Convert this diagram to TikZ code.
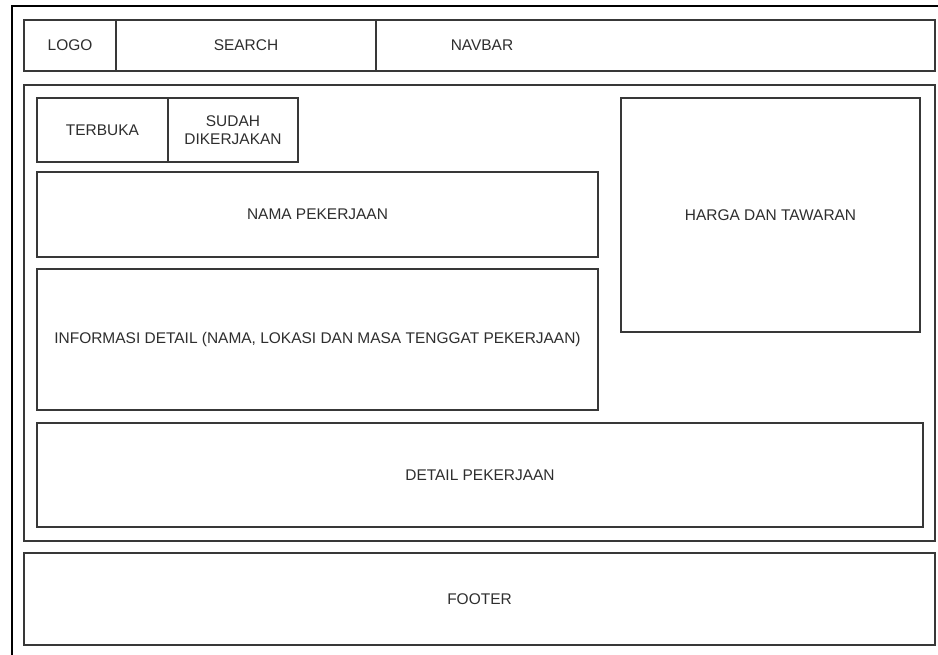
\documentclass[tikz,border=0pt]{standalone}
\usepackage{fontspec}
\setmainfont{Liberation Sans}
\usetikzlibrary{fit}
\begin{document}
\begin{tikzpicture}[x=0.75pt,y=-0.75pt,
  box/.style={draw=black!78, line width=0.9pt, fill=white, inner sep=0pt},
  txt/.style={inner sep=0pt, align=center,
    font=\fontsize{11.6}{13.2}\selectfont, text=black!82}]
  \useasboundingbox (0,0) rectangle (938,655);
  \fill[white] (0,0) rectangle (938,655);
  % page frame
  \draw[black, line width=0.9pt] (12,655) -- (12,6) -- (938,6);
  % header bar
  \node[box, fit={(24,20) (116,71)}] (logo) {};
  \node[box, fit={(116,20) (376,71)}] (search) {};
  \node[box, fit={(376,20) (935,71)}] (navbar) {};
  % main content area
  \node[box, fit={(24,85) (935,541)}] (content) {};
  \node[box, fit={(37,98) (168,162)}] (terbuka) {};
  \node[box, fit={(168,98) (298,162)}] (sudah) {};
  \node[box, fit={(37,172) (598,257)}] (nama) {};
  \node[box, fit={(37,269) (598,410)}] (info) {};
  \node[box, fit={(621,98) (920,332)}] (harga) {};
  \node[box, fit={(37,423) (923,527)}] (detail) {};
  % footer
  \node[box, fit={(24,553) (935,645)}] (footer) {};
  % captions
  \node[txt] (logotext) at (logo.center) {LOGO};
  \node[txt] (searchtext) at (search.center) {SEARCH};
  \node[txt] (navtext) at (482,45.5) {NAVBAR};
  \node[txt] (terbukatext) at (terbuka.center) {TERBUKA};
  \node[txt] (sudahtext) at (sudah.center) {SUDAH\\DIKERJAKAN};
  \node[txt] (namatext) at (nama.center) {NAMA PEKERJAAN};
  \node[txt] (infotext) at (info.center) {INFORMASI DETAIL (NAMA, LOKASI DAN MASA TENGGAT PEKERJAAN)};
  \node[txt] (hargatext) at (harga.center) {HARGA DAN TAWARAN};
  \node[txt] (detailtext) at (detail.center) {DETAIL PEKERJAAN};
  \node[txt] (footertext) at (footer.center) {FOOTER};
\end{tikzpicture}
\end{document}
